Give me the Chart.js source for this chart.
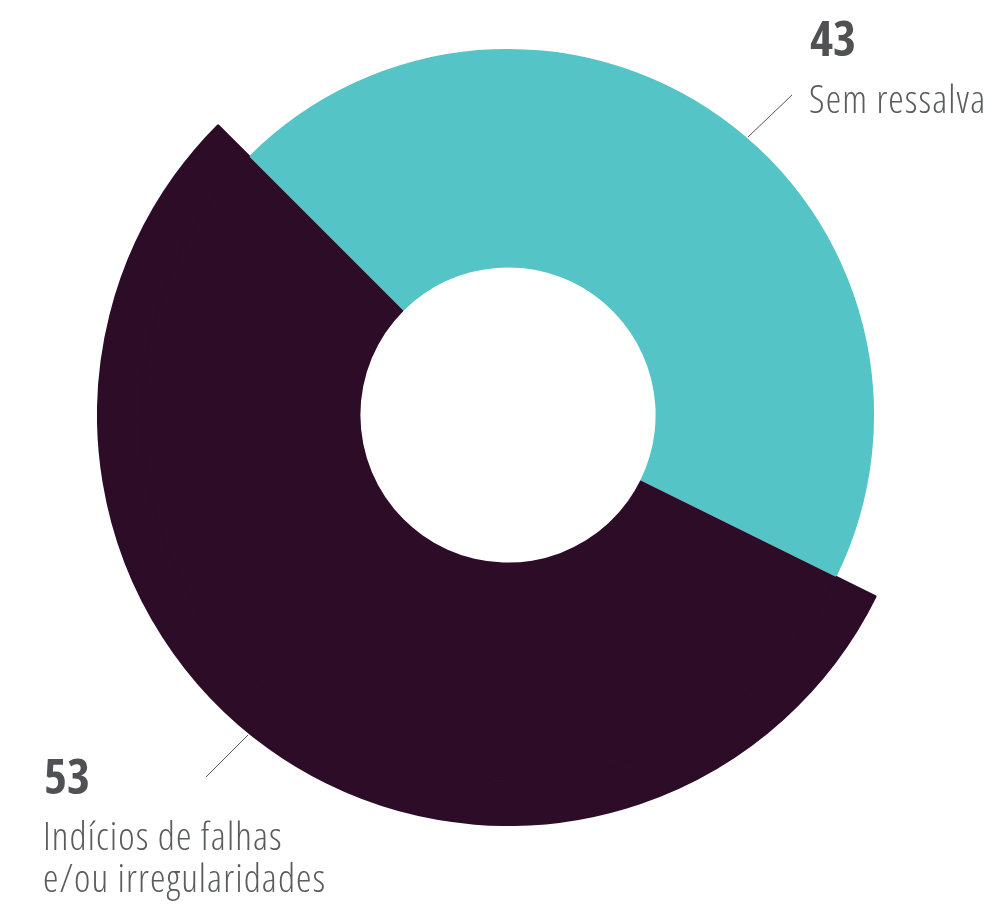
<!DOCTYPE html>
<html>
<head>
<meta charset="utf-8">
<script src="https://cdn.jsdelivr.net/npm/chart.js@4"></script>
<style>
  html, body { margin: 0; padding: 0; background: #fff; }
  body { width: 996px; height: 912px; position: relative; overflow: hidden;
         font-family: "Open Sans", sans-serif; font-stretch: 75%; color: #5b5c5e; }
  #wrap { position: absolute; left: 97px; top: 4px; width: 822px; height: 822px; }
  .num { position: absolute; font-weight: 700; font-size: 49px; line-height: 49px;
         color: #505154; white-space: nowrap; }
  .lbl { position: absolute; font-size: 39px; line-height: 42px; font-weight: 300;
         letter-spacing: 1.1px; white-space: nowrap; }
  svg { position: absolute; left: 0; top: 0; }
</style>
</head>
<body>
<div id="wrap"><canvas id="myChart"></canvas></div>
<svg width="996" height="912">
  <line x1="748" y1="137" x2="792" y2="95" stroke="#555" stroke-width="1"/>
  <line x1="206" y1="777" x2="248" y2="735" stroke="#555" stroke-width="1"/>
</svg>
<div class="num" id="n0" style="left:810px; top:13px;"></div>
<div class="lbl" id="l0" style="left:809px; top:77px;"></div>
<div class="num" id="n1" style="left:44px; top:751px;"></div>
<div class="lbl" id="l1" style="left:43px; top:814px;"></div>
<script>
const categorias = ['Sem ressalva', 'Indícios de falhas\ne/ou irregularidades']
const valores = [43, 53]
const cores = ['#55c4c6', '#2d0c27']

// anel externo so mostra a fatia maior (raio maior)
const coresExterno = ['rgba(0,0,0,0)', cores[1]]

document.getElementById('n0').textContent = valores[0]
document.getElementById('n1').textContent = valores[1]
document.getElementById('l0').innerHTML = categorias[0]
document.getElementById('l1').innerHTML = categorias[1].replace('\n', '<br>')

const ctx = document.getElementById('myChart')

const myChart = new Chart(ctx, {
    type: 'doughnut',
    data: {
        labels: categorias,
        datasets: [{
            data: valores,
            backgroundColor: coresExterno,
            borderColor: coresExterno,
            borderWidth: [0, 2],
            weight: 44
        }, {
            data: valores,
            backgroundColor: cores,
            borderWidth: 0,
            weight: 219
        }]
    },
    options: {
        responsive: true,
        maintainAspectRatio: false,
        animation: false,
        rotation: -45,
        cutout: '36%',
        events: [],
        plugins: {
            legend: { display: false },
            tooltip: { enabled: false }
        }
    }
});
</script>
</body>
</html>
